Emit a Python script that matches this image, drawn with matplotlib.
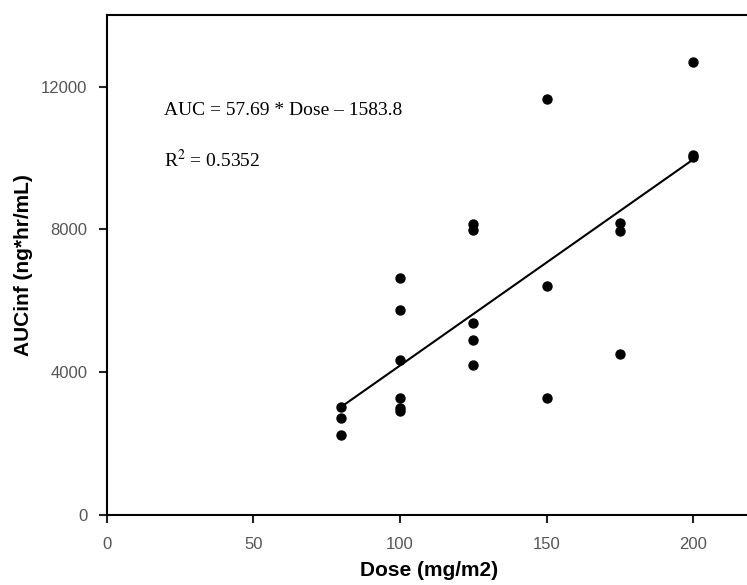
import matplotlib
matplotlib.use("Agg")
import matplotlib.pyplot as plt

# Dose levels (mg/m2) and AUCinf values (ng*hr/mL)
dose = [80, 80, 80,
        100, 100, 100, 100, 100, 100,
        125, 125, 125, 125, 125,
        150, 150, 150,
        175, 175, 175,
        200, 200, 200]
auc = [3020, 2720, 2240,
       6630, 5740, 4350, 3280, 3000, 2920,
       8150, 7990, 5380, 4900, 4190,
       11660, 6420, 3280,
       8180, 7950, 4520,
       12700, 10080, 10020]

# regression line as printed on the chart
slope = 57.69
intercept = -1583.8
fit_x = [80, 200]
fit_y = [slope * x + intercept for x in fit_x]

x_ticks = [0, 50, 100, 150, 200]
y_ticks = [0, 4000, 8000, 12000]

fig = plt.figure(figsize=(7.47, 5.85), dpi=100)
ax = fig.add_axes([0.1432, 0.1197, 0.8630, 0.8545])

ax.plot(fit_x, fit_y, color="black", linewidth=1.5, zorder=2)
ax.scatter(dose, auc, s=42, color="black", zorder=3)

ax.set_xlim(0, 220)
ax.set_ylim(0, 14000)
ax.set_xticks(x_ticks)
ax.set_yticks(y_ticks)

for lab in ax.get_xticklabels() + ax.get_yticklabels():
    lab.set_family("Liberation Sans")
    lab.set_fontsize(12)
    lab.set_color("#555555")

ax.tick_params(direction="out", length=6, width=1.5, color="#222222")
ax.tick_params(axis="x", pad=10)
ax.tick_params(axis="y", pad=8)
for sp in ax.spines.values():
    sp.set_linewidth(1.5)

ax.set_xlabel("Dose (mg/m2)", fontsize=15, fontweight="bold",
              family="Liberation Sans", labelpad=6)
ax.set_ylabel("AUCinf (ng*hr/mL)", fontsize=15, fontweight="bold",
              family="Liberation Sans", labelpad=6)

ax.text(19.5, 11330, "AUC = 57.69 * Dose \u2013 1583.8", family="Liberation Serif",
        fontsize=14, va="center")
ax.text(19.5, 9930, "R$^2$ = 0.5352", family="Liberation Serif",
        fontsize=14, va="center", math_fontfamily="stix")

fig.savefig("out.png", dpi=100)
